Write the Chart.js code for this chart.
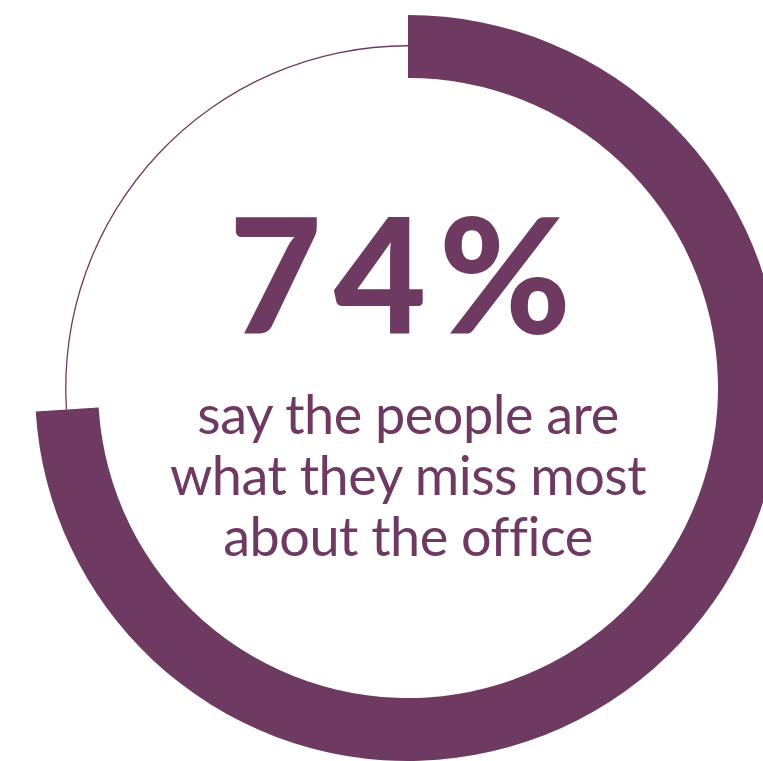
<!DOCTYPE html>
<html>
<head>
<meta charset="utf-8">
<script src="https://cdn.jsdelivr.net/npm/chart.js@4"></script>
<style>
  html, body { margin:0; padding:0; background:#ffffff; }
  #wrap { position:relative; width:763px; height:761px; overflow:hidden; background:#fff; }
  .box { position:absolute; left:0; top:0; width:816px; height:776px; }
  .t { position:absolute; left:0; width:816px; text-align:center; color:#6e3a61; white-space:nowrap; line-height:0; }
  #big { font-family: Lato, sans-serif; font-weight:900; font-size:160px; top:272px; left:-2px; letter-spacing:12px; }
  .body { font-family: Lato, sans-serif; font-weight:400; font-size:54px; letter-spacing:-0.5px; }
</style>
</head>
<body>
<div id="wrap">
  <div class="box"><canvas id="ring" width="816" height="776"></canvas></div>
  <div class="box"><canvas id="thin" width="816" height="776"></canvas></div>
  <div class="t" id="big"></div>
  <div class="t body" id="l1" style="top:414px"></div>
  <div class="t body" id="l2" style="top:475px"></div>
  <div class="t body" id="l3" style="top:536px"></div>
</div>
<script>
// ---- data ----
const categories = ["Miss the people", "Other"];
const shareValues = [74, 26];
const headline = "74%";
const captionLines = ["say the people are", "what they miss most", "about the office"];

const purple = "#6e3a61";
const clear = "rgba(0,0,0,0)";

document.getElementById("big").textContent = headline;
document.getElementById("l1").textContent = captionLines[0];
document.getElementById("l2").textContent = captionLines[1];
document.getElementById("l3").textContent = captionLines[2];

const common = {
  responsive: false,
  animation: false,
  devicePixelRatio: 1,
  events: [],
  plugins: { legend: { display: false }, tooltip: { enabled: false } }
};

// thick arc: the 74% share
new Chart(document.getElementById("ring"), {
  type: "doughnut",
  data: {
    labels: categories,
    datasets: [{ data: shareValues, backgroundColor: [purple, clear], borderWidth: 0 }]
  },
  options: Object.assign({}, common, { cutout: "83.11%", layout: { padding: 15 } })
});

// thin line: the remaining 26% share
new Chart(document.getElementById("thin"), {
  type: "doughnut",
  data: {
    labels: categories,
    datasets: [{ data: shareValues, backgroundColor: [clear, purple], borderWidth: 0 }]
  },
  options: Object.assign({}, common, { cutout: "99.62%", layout: { padding: 45.1 } })
});
</script>
</body>
</html>
